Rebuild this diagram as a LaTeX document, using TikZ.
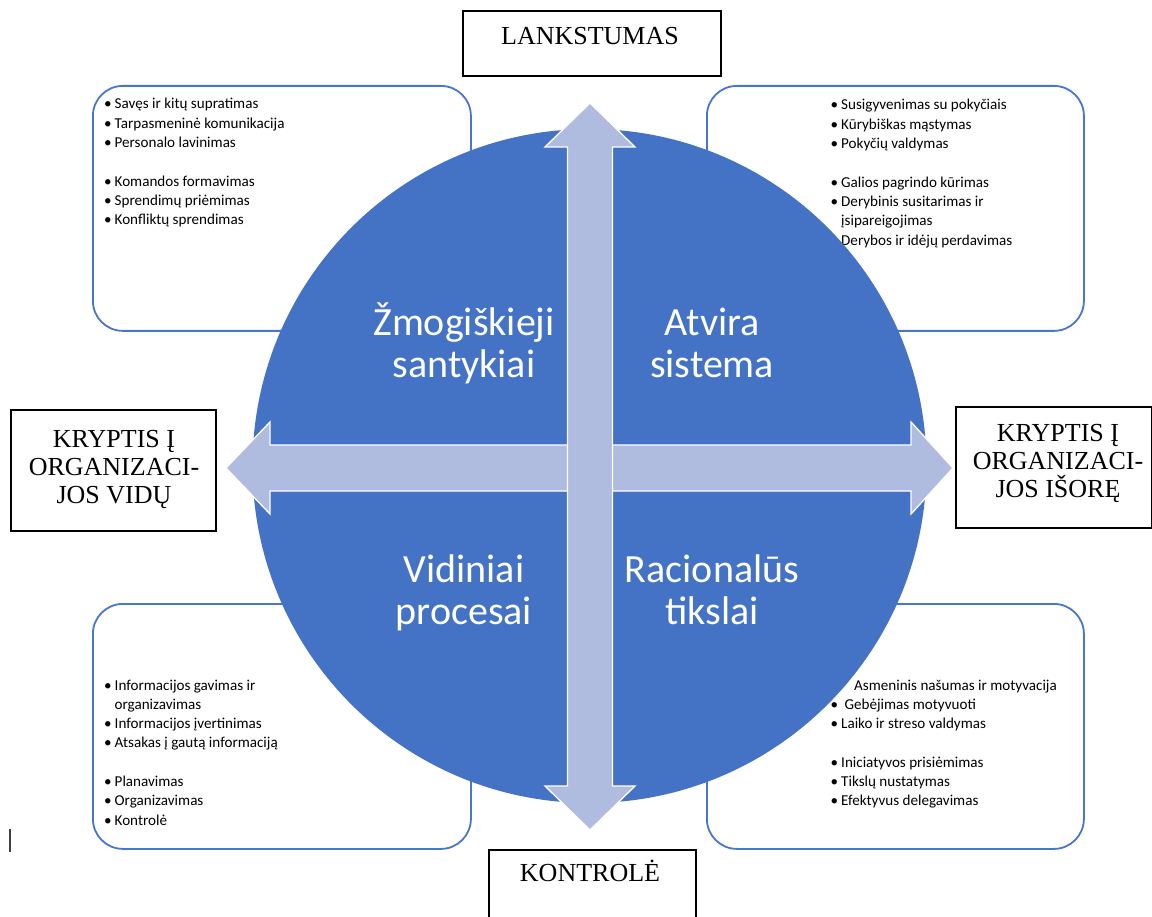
\documentclass[tikz,border=0pt]{standalone}
\usepackage{fontspec}
\setmainfont{Liberation Serif}
\newfontfamily\carl{Carlito}
\definecolor{cblue}{RGB}{68,114,196}
\definecolor{carrow}{RGB}{175,187,223}
\definecolor{cline}{RGB}{72,118,205}
\newcommand{\bitem}[1]{\makebox[10.5pt][l]{\textbullet}#1}
\newcommand{\bcont}[1]{\hspace*{10.5pt}#1}
\begin{document}
\begin{tikzpicture}[x=1pt,y=-1pt,
  qbox/.style={draw=cline, line width=1.8pt, rounded corners=30pt, inner sep=0pt},
  lbox/.style={draw=black, line width=1.6pt, fill=white, inner sep=0pt},
  ltext/.style={font=\fontsize{26}{28}\selectfont, inner sep=0pt, anchor=base},
  qtext/.style={text=white, font=\carl\fontsize{40}{42}\selectfont, inner sep=0pt, anchor=base},
  listtxt/.style={inner sep=0pt, anchor=base west, font=\carl\fontsize{15.1}{19.3}\selectfont},
  bigarrow/.style={fill=carrow, draw=white, line width=1.3pt, line join=miter}]
\useasboundingbox (0,0) rectangle (1152,917);

% quadrant boxes
\node[qbox, minimum width=378pt, minimum height=245pt, anchor=north west] (tlbox) at (92,85) {};
\node[qbox, minimum width=377pt, minimum height=245pt, anchor=north west] (trbox) at (706,85) {};
\node[qbox, minimum width=378pt, minimum height=245pt, anchor=north west] (blbox) at (92,603) {};
\node[qbox, minimum width=377pt, minimum height=245pt, anchor=north west] (brbox) at (706,603) {};

% lists
\node[listtxt] (tllist) at (104,109) {\parbox[t]{340pt}{%
\bitem{Savęs ir kitų supratimas}\\
\bitem{Tarpasmeninė komunikacija}\\
\bitem{Personalo lavinimas}\\
\mbox{}\\
\bitem{Komandos formavimas}\\
\bitem{Sprendimų priėmimas}\\
\bitem{Konfliktų sprendimas}}};

\node[listtxt] (trlist) at (830.5,110) {\parbox[t]{240pt}{%
\bitem{Susigyvenimas su pokyčiais}\\
\bitem{Kūrybiškas mąstymas}\\
\bitem{Pokyčių valdymas}\\
\mbox{}\\
\bitem{Galios pagrindo kūrimas}\\
\bitem{Derybinis susitarimas ir}\\
\bcont{įsipareigojimas}\\
\bitem{Derybos ir idėjų perdavimas}}};

\node[listtxt] (bllist) at (104,690) {\parbox[t]{340pt}{%
\bitem{Informacijos gavimas ir}\\
\bcont{organizavimas}\\
\bitem{Informacijos įvertinimas}\\
\bitem{Atsakas į gautą informaciją}\\
\mbox{}\\
\bitem{Planavimas}\\
\bitem{Organizavimas}\\
\bitem{Kontrolė}}};

\node[listtxt] (brlist) at (830.5,690) {\parbox[t]{240pt}{%
\bitem{\hspace*{13pt}Asmeninis našumas ir motyvacija}\\
\bitem{\ Gebėjimas motyvuoti}\\
\bitem{Laiko ir streso valdymas}\\
\mbox{}\\
\bitem{Iniciatyvos prisiėmimas}\\
\bitem{Tikslų nustatymas}\\
\bitem{Efektyvus delegavimas}}};

% circle
\fill[cblue] (589.5,466) circle (337pt);

% arrows
\path[bigarrow] (226,468) -- (270,422) -- (270,445) -- (911,445) -- (911,422) -- (953,468)
  -- (911,514) -- (911,491) -- (270,491) -- (270,514) -- cycle;
\path[bigarrow] (590,103) -- (635,147) -- (612.5,147) -- (612.5,786) -- (635,786) -- (590,830)
  -- (545,786) -- (567.5,786) -- (567.5,147) -- (545,147) -- cycle;

% quadrant titles
\node[qtext] (q1) at (464,336) {\parbox[t]{260pt}{\centering Žmogiškieji\\santykiai}};
\node[qtext] (q2) at (712,336) {\parbox[t]{260pt}{\centering Atvira\\sistema}};
\node[qtext] (q3) at (464,582) {\parbox[t]{260pt}{\centering Vidiniai\\procesai}};
\node[qtext] (q4) at (712,582) {\parbox[t]{260pt}{\centering Racionalūs\\tikslai}};

% label boxes
\node[lbox, minimum width=258pt, minimum height=65pt, anchor=north west] (lankbox) at (462,10) {};
\node[ltext] (lank) at (590,45) {LANKSTUMAS};
\node[lbox, minimum width=205pt, minimum height=121pt, anchor=north west] (leftbox) at (10,409) {};
\node[ltext] (lefttxt) at (114,447) {\parbox[t]{200pt}{\centering KRYPTIS Į\\ORGANIZACI-\\JOS VIDŲ}};
\node[lbox, minimum width=196pt, minimum height=121pt, anchor=north west] (rightbox) at (955,406) {};
\node[ltext] (righttxt) at (1058,442) {\parbox[t]{200pt}{\centering KRYPTIS Į\\ORGANIZACI-\\JOS IŠORĘ}};
\node[lbox, minimum width=207pt, minimum height=80pt, anchor=north west] (kontbox) at (488,849) {};
\node[ltext] (kont) at (590,881) {KONTROLĖ};

% text cursor mark
\draw[line width=1.2pt, black!75] (10,829) -- (10,852);
\end{tikzpicture}
\end{document}
